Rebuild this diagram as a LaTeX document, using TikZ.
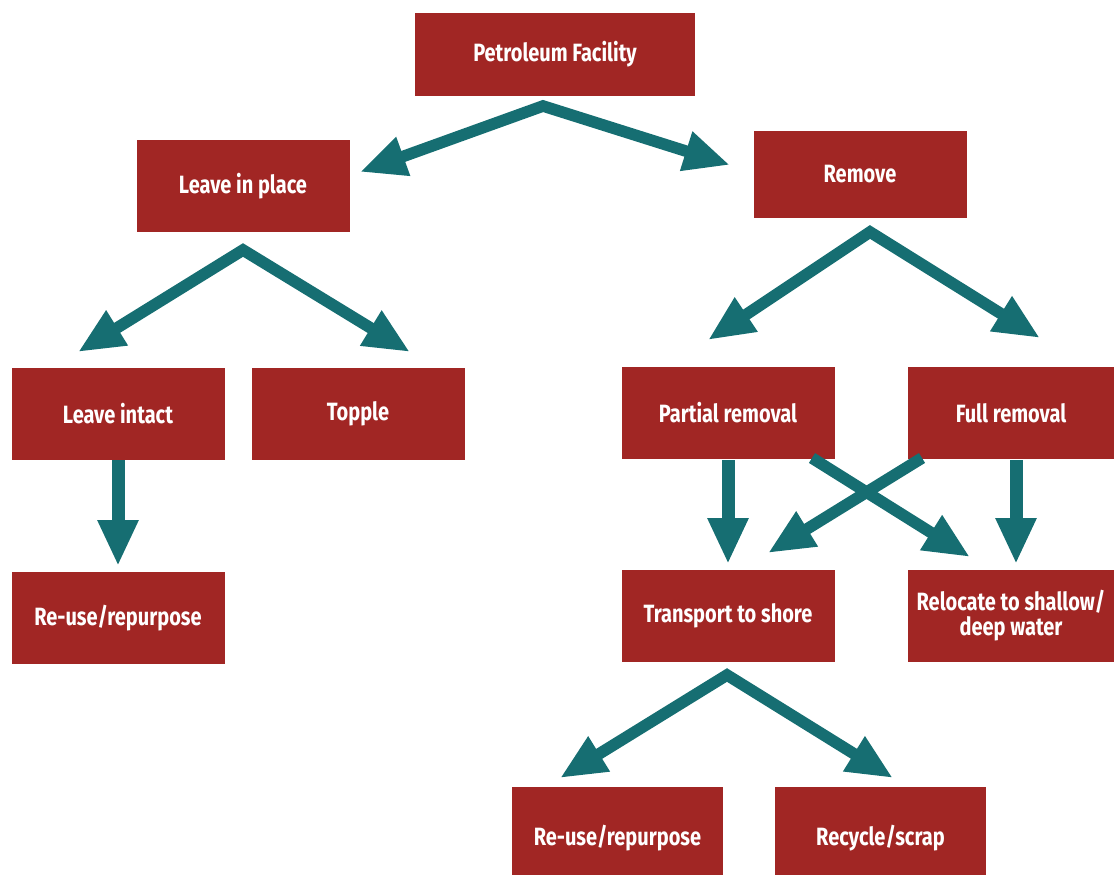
\documentclass[tikz,border=0pt]{standalone}
\usepackage{fontspec}
\setmainfont[FakeStretch=0.8]{Fira Sans}
\usetikzlibrary{arrows.meta}
\definecolor{boxred}{RGB}{161,38,36}
\definecolor{arrowteal}{RGB}{22,110,114}
\begin{document}
\begin{tikzpicture}[x=0.5pt,y=-0.5pt,
  box/.style={fill=boxred, text=white, font=\fontsize{12.5}{12.5}\selectfont\bfseries,
    inner sep=0pt, minimum width=106.5pt, minimum height=46pt, align=center},
  tip/.tip={Triangle[width=19pt,length=23pt]},
  conn/.style={draw=arrowteal, line width=5.8pt, line join=miter, miter limit=20, -tip},
  vconn/.style={draw=arrowteal, line width=5.8pt, line join=miter, miter limit=20, tip-tip},
  dconn/.style={draw=arrowteal, line width=6.5pt, -tip}]
\useasboundingbox (0,0) rectangle (1114,874);
% boxes
\node[box, minimum width=140pt, minimum height=41.5pt] (pf) at (555,54.5) {Petroleum Facility};
\node[box] (lip) at (243,186) {Leave in place};
\node[box, minimum height=43.5pt] (rm) at (860,174) {Remove};
\node[box] (li) at (118,414) {Leave intact};
\node[box] (tp) at (358,414) {Topple};
\node[box] (pr) at (728,413) {Partial removal};
\node[box, minimum width=103pt] (fr) at (1011,413) {Full removal};
\node[box] (ru1) at (118,618) {Re-use/repurpose};
\node[box] (ts) at (728,616) {Transport to shore};
\node[box, minimum width=103pt] (rl) at (1011,616) {Relocate to shallow/\\deep water};
\node[box, minimum width=105.5pt, minimum height=51pt] (ru2) at (617.5,838) {Re-use/repurpose};
\node[box, minimum width=105.5pt, minimum height=51pt] (rs) at (880.5,838) {Recycle/scrap};
% connector coordinates
\coordinate (pfA) at (543,106);
\coordinate (pfL) at (360,172);
\coordinate (pfR) at (730,165);
\coordinate (lipA) at (243,250);
\coordinate (lipL) at (78,352);
\coordinate (lipR) at (410,352);
\coordinate (rmA) at (870,232);
\coordinate (rmL) at (708,340);
\coordinate (rmR) at (1040,338);
\coordinate (tsA) at (727,675);
\coordinate (tsL) at (560,778);
\coordinate (tsR) at (893,778);
\coordinate (liS) at (118,460);
\coordinate (ru1N) at (118,566);
\coordinate (prS) at (728,460);
\coordinate (tsN) at (728,564);
\coordinate (frS) at (1016,460);
\coordinate (rlN) at (1016,564);
\coordinate (prX) at (812,458);
\coordinate (rlX) at (970,557);
\coordinate (frX) at (922,458);
\coordinate (tsX) at (768,553);
% connectors
\draw[vconn] (pfL) -- (pfA) -- (pfR);
\draw[vconn] (lipL) -- (lipA) -- (lipR);
\draw[vconn] (rmL) -- (rmA) -- (rmR);
\draw[vconn] (tsL) -- (tsA) -- (tsR);
\draw[dconn] (liS) -- (ru1N);
\draw[dconn] (prS) -- (tsN);
\draw[dconn] (frS) -- (rlN);
\draw[conn] (prX) -- (rlX);
\draw[conn] (frX) -- (tsX);
\end{tikzpicture}
\end{document}
